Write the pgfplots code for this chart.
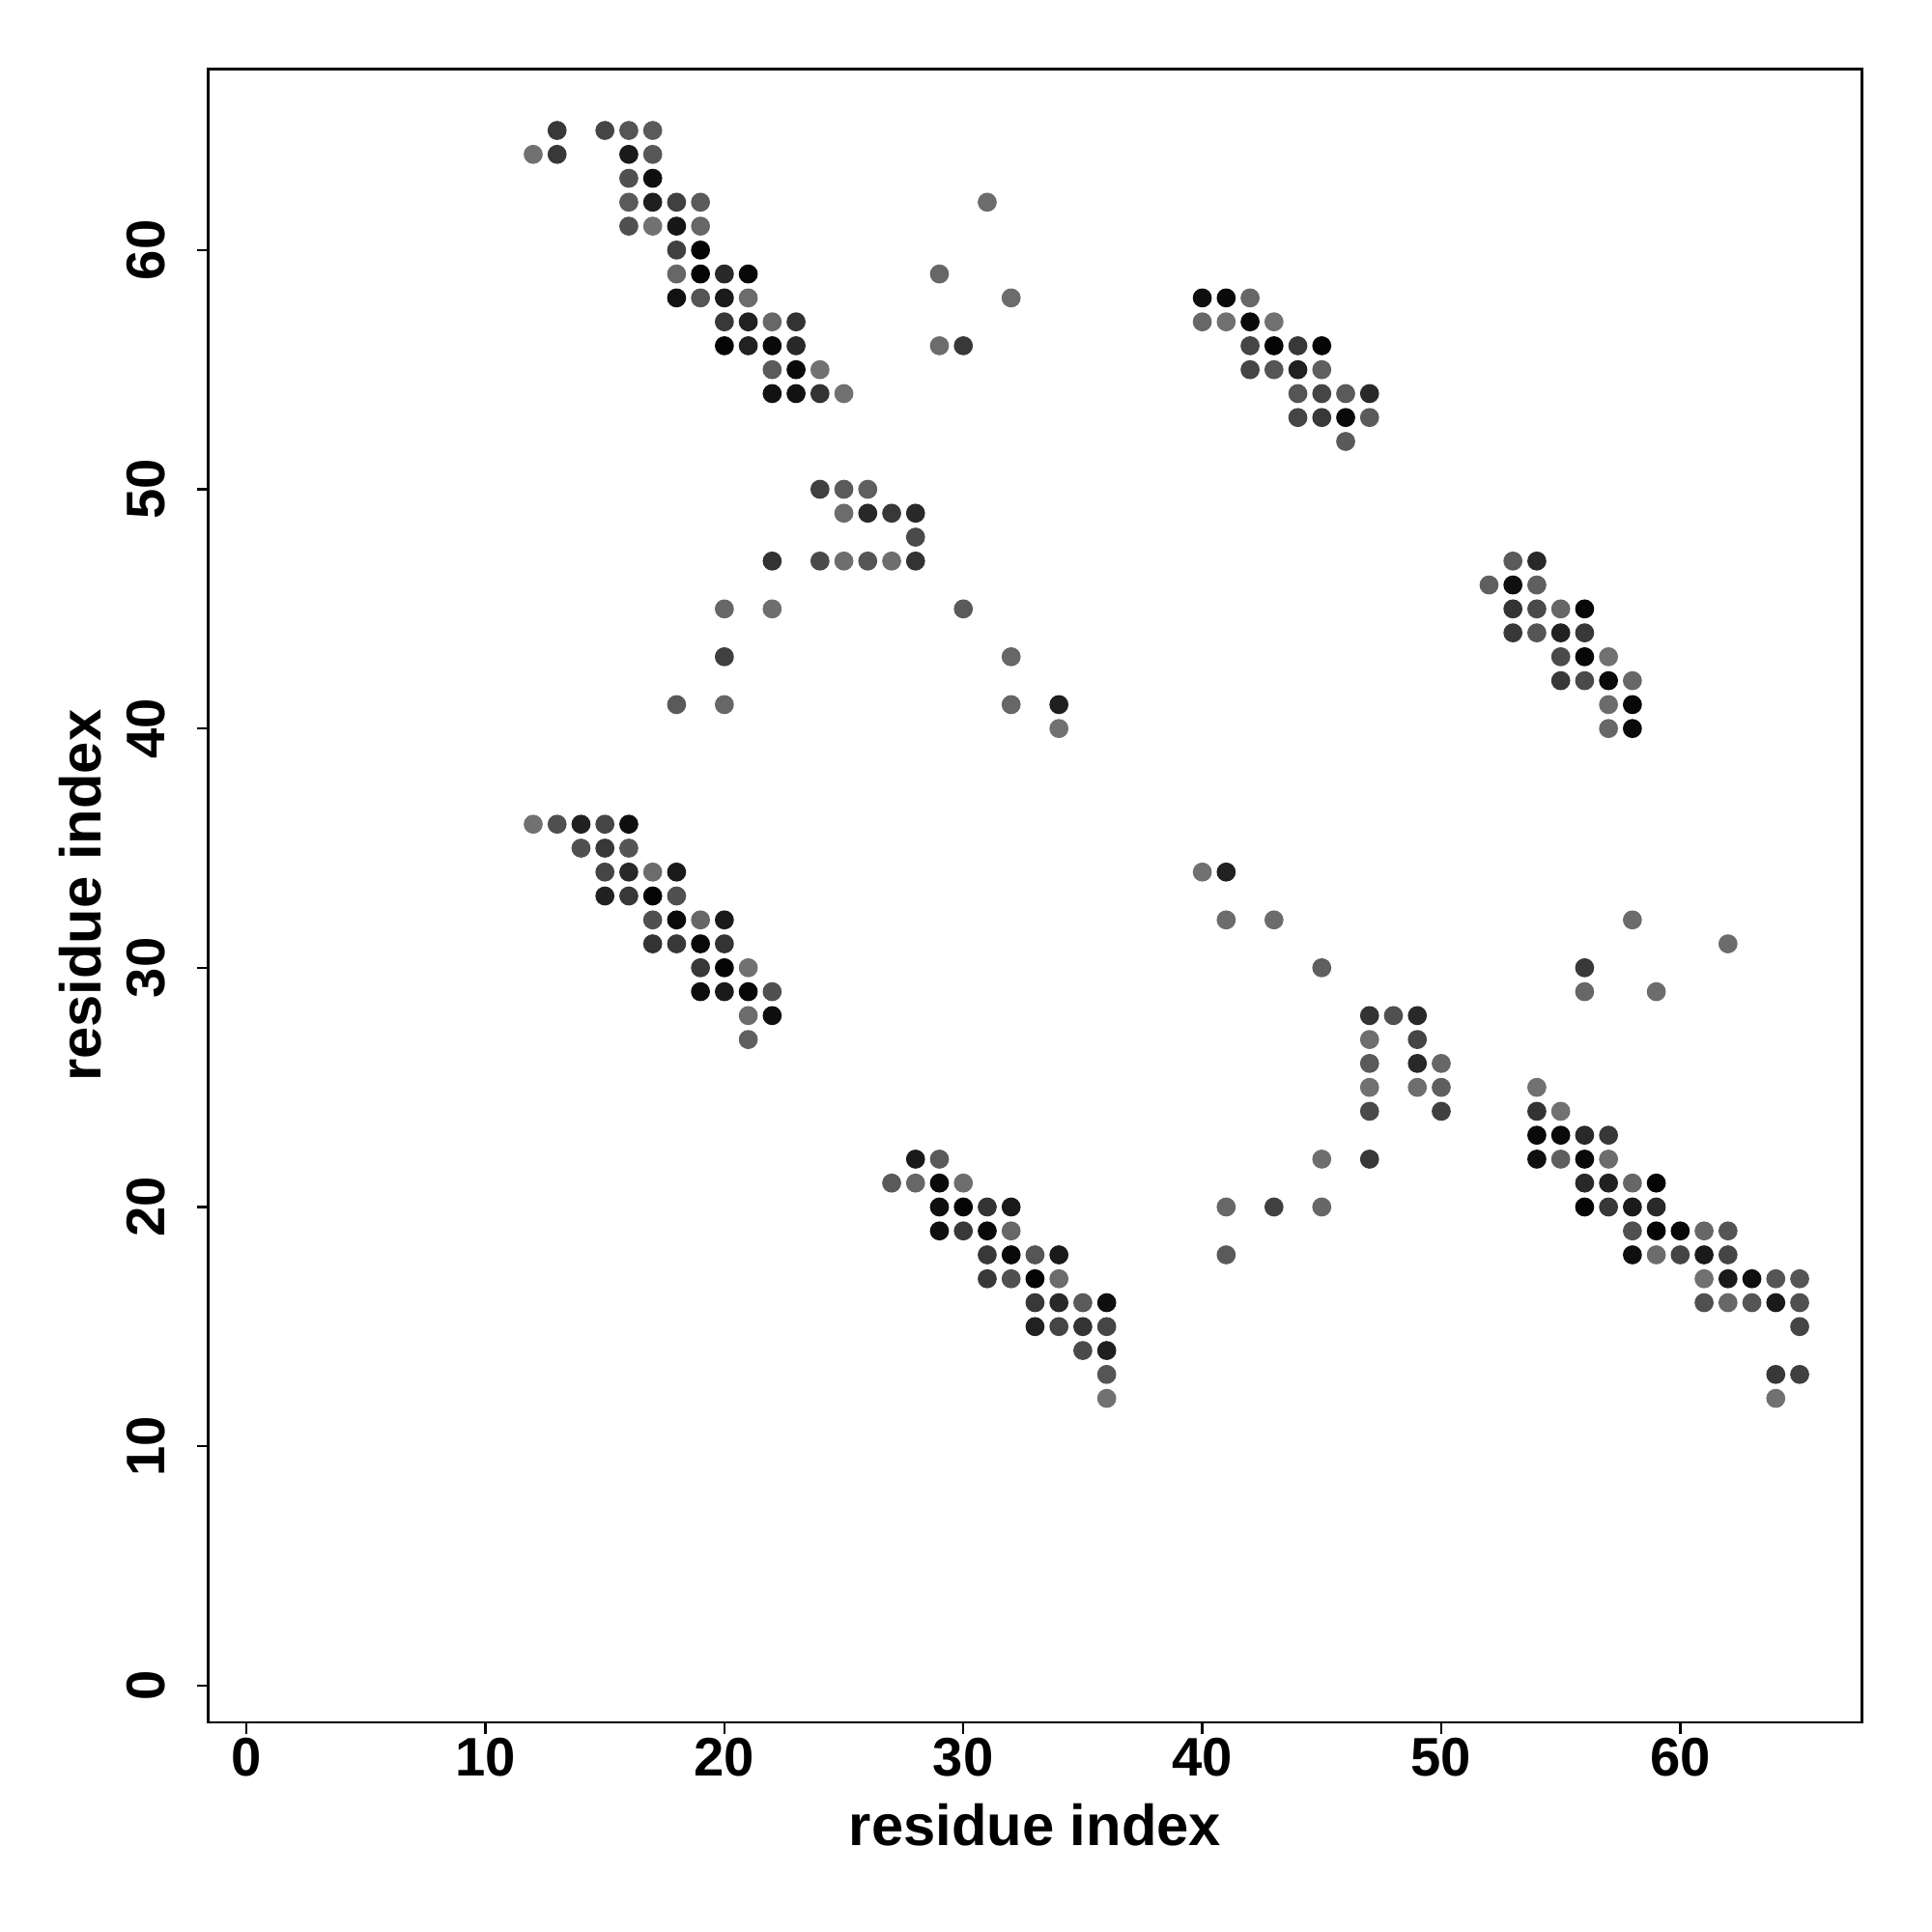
\documentclass[border=0pt]{standalone}
\usepackage{fontspec}
\setmainfont{Liberation Sans}
\usepackage{pgfplots}
\usepackage{pgfplotstable}
\pgfplotsset{compat=1.18}
\pgfplotstableread{
x y c
13 65 0.22
15 65 0.27
16 65 0.33
17 65 0.35
12 64 0.44
13 64 0.22
16 64 0.10
17 64 0.34
16 63 0.31
17 63 0.06
16 62 0.35
17 62 0.12
18 62 0.25
19 62 0.35
16 61 0.31
17 61 0.44
18 61 0.09
19 61 0.40
18 60 0.25
19 60 0.02
18 59 0.40
19 59 0.02
20 59 0.16
21 59 0.03
18 58 0.07
19 58 0.33
20 58 0.10
21 58 0.42
20 57 0.22
21 57 0.13
22 57 0.40
23 57 0.20
20 56 0.02
21 56 0.13
22 56 0.04
23 56 0.16
22 55 0.35
23 55 0.04
24 55 0.44
22 54 0.07
23 54 0.07
24 54 0.20
25 54 0.44
31 62 0.42
29 59 0.40
32 58 0.42
29 56 0.42
30 56 0.22
24 50 0.25
25 50 0.35
26 50 0.37
25 49 0.42
26 49 0.16
27 49 0.22
28 49 0.16
28 48 0.29
22 47 0.20
24 47 0.29
25 47 0.43
26 47 0.33
27 47 0.43
28 47 0.20
20 45 0.40
22 45 0.43
30 45 0.35
20 43 0.25
32 43 0.40
18 41 0.35
20 41 0.40
32 41 0.40
34 41 0.12
34 40 0.44
40 58 0.06
41 58 0.04
42 58 0.40
40 57 0.40
41 57 0.44
42 57 0.04
43 57 0.44
42 56 0.27
43 56 0.02
44 56 0.22
45 56 0.02
42 55 0.27
43 55 0.33
44 55 0.13
45 55 0.37
44 54 0.33
45 54 0.27
46 54 0.35
47 54 0.16
44 53 0.27
45 53 0.22
46 53 0.04
47 53 0.35
46 52 0.35
53 47 0.35
54 47 0.16
52 46 0.37
53 46 0.06
54 46 0.37
53 45 0.20
54 45 0.29
55 45 0.40
56 45 0.03
53 44 0.22
54 44 0.33
55 44 0.13
56 44 0.22
55 43 0.29
56 43 0.03
57 43 0.44
55 42 0.22
56 42 0.29
57 42 0.04
58 42 0.40
57 41 0.42
58 41 0.03
57 40 0.40
58 40 0.04
12 36 0.44
13 36 0.31
14 36 0.13
15 36 0.27
16 36 0.06
14 35 0.31
15 35 0.22
16 35 0.33
15 34 0.27
16 34 0.16
17 34 0.42
18 34 0.10
15 33 0.13
16 33 0.22
17 33 0.02
18 33 0.31
17 32 0.31
18 32 0.04
19 32 0.40
20 32 0.10
17 31 0.20
18 31 0.22
19 31 0.04
20 31 0.20
19 30 0.22
20 30 0.02
21 30 0.44
19 29 0.06
20 29 0.10
21 29 0.03
22 29 0.31
21 28 0.42
22 28 0.06
21 27 0.37
28 22 0.10
29 22 0.35
27 21 0.35
28 21 0.40
29 21 0.04
30 21 0.43
29 20 0.06
30 20 0.02
31 20 0.20
32 20 0.10
29 19 0.06
30 19 0.22
31 19 0.04
32 19 0.40
31 18 0.22
32 18 0.04
33 18 0.33
34 18 0.10
31 17 0.22
32 17 0.31
33 17 0.02
34 17 0.42
33 16 0.22
34 16 0.16
35 16 0.35
36 16 0.06
33 15 0.13
34 15 0.27
35 15 0.20
36 15 0.27
35 14 0.29
36 14 0.12
36 13 0.33
36 12 0.44
40 34 0.44
41 34 0.13
41 32 0.42
43 32 0.42
45 30 0.37
47 28 0.20
48 28 0.31
49 28 0.16
47 27 0.43
49 27 0.27
47 26 0.35
49 26 0.16
50 26 0.40
47 25 0.44
49 25 0.43
50 25 0.37
47 24 0.29
50 24 0.25
45 22 0.43
47 22 0.22
41 20 0.40
43 20 0.25
45 20 0.40
41 18 0.35
58 32 0.42
62 31 0.42
56 30 0.22
56 29 0.40
59 29 0.42
54 25 0.44
54 24 0.20
55 24 0.44
54 23 0.04
55 23 0.04
56 23 0.16
57 23 0.22
54 22 0.06
55 22 0.37
56 22 0.04
57 22 0.42
56 21 0.16
57 21 0.13
58 21 0.40
59 21 0.02
56 20 0.02
57 20 0.22
58 20 0.10
59 20 0.16
58 19 0.31
59 19 0.02
60 19 0.03
61 19 0.40
62 19 0.33
58 18 0.06
59 18 0.42
60 18 0.27
61 18 0.10
62 18 0.27
61 17 0.44
62 17 0.10
63 17 0.06
64 17 0.33
65 17 0.33
61 16 0.31
62 16 0.40
63 16 0.33
64 16 0.10
65 16 0.31
65 15 0.27
64 13 0.22
65 13 0.25
64 12 0.44
}\contacts
\begin{document}
\begin{tikzpicture}
\path[use as bounding box] (-2.156cm,-2.168cm) rectangle (17.847cm,17.834cm);
\begin{axis}[
  scale only axis,
  width=17.12cm, height=17.12cm,
  at={(0,0)}, anchor=south west,
  xmin=-1.6, xmax=67.6,
  ymin=-1.55, ymax=67.57,
  xtick={0,10,20,30,40,50,60},
  ytick={0,10,20,30,40,50,60},
  tick pos=left,
  tick align=outside,
  major tick length=0.12cm,
  tick style={black, line width=0.7pt},
  axis line style={black, line width=0.7pt},
  /pgf/number format/assume math mode=true,
  ticklabel style={font=\fontsize{16}{19}\selectfont\bfseries},
  xticklabel style={anchor=north, inner sep=0pt},
  yticklabel style={rotate=90, anchor=south, inner sep=0pt},
  xticklabel shift=0.03cm,
  yticklabel shift=0.316cm,
  xlabel={residue index},
  ylabel={residue index},
  label style={font=\fontsize{17}{20}\selectfont\bfseries},
  xlabel style={at={(axis description cs:0.5,-0.0742)}, anchor=base, inner sep=0pt},
  ylabel style={at={(axis description cs:-0.0648,0.5)}, anchor=base, inner sep=0pt},
  colormap={grays}{gray(0cm)=(0); gray(1cm)=(1)},
  point meta min=0, point meta max=1,
]
\addplot[
  scatter, only marks, mark=*, mark size=0.0915cm,
  scatter/use mapped color={draw=mapped color, fill=mapped color},
  point meta=explicit,
] table[x=x, y=y, meta=c] {\contacts};
\end{axis}
\end{tikzpicture}
\end{document}
